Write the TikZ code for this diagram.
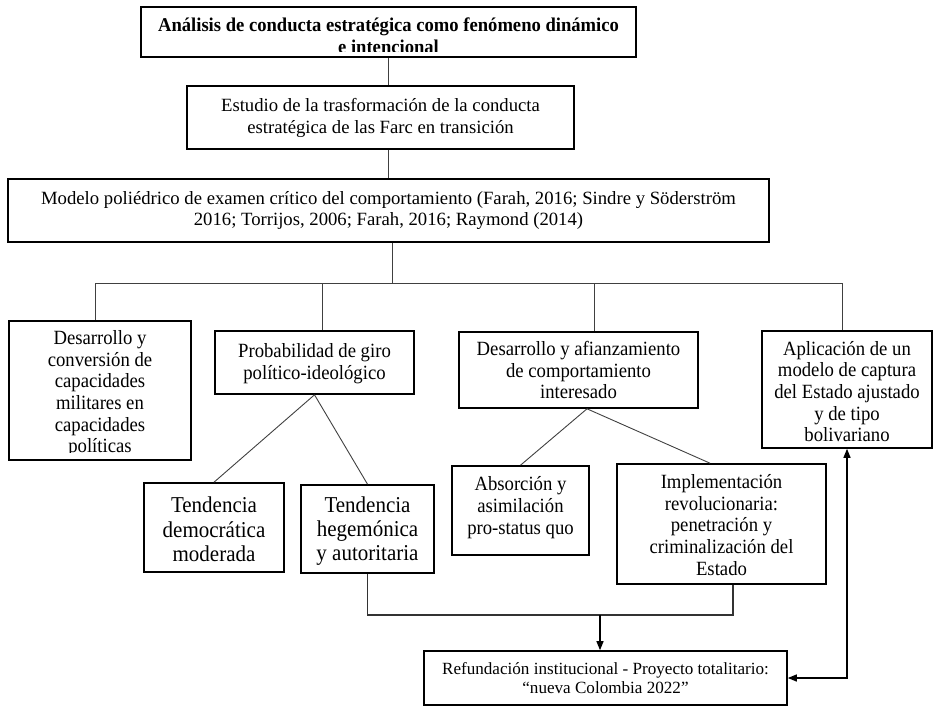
\documentclass[tikz,border=0pt]{standalone}
\usepackage{fontspec}
\setmainfont{Liberation Serif}
\usetikzlibrary{arrows.meta,calc}
\begin{document}
\begin{tikzpicture}[x=1pt,y=-1pt,
  box/.style={draw=black, line width=1.6pt, inner sep=0pt, align=center},
  st/.style={yscale=1.08, inner sep=0pt, align=center},
  conn/.style={draw=black!75, line width=0.9pt},
  conntwo/.style={draw=black!80, line width=1.2pt},
  arr/.style={draw=black, line width=1.3pt, -{Triangle[length=9pt,width=7pt]}},
  dblarr/.style={draw=black, line width=1.3pt, {Triangle[length=9pt,width=7pt]}-{Triangle[length=9pt,width=7pt]}},
  nf/.style={font=\fontsize{18.7}{20.1}\selectfont},
  nftwo/.style={font=\fontsize{18.7}{22}\selectfont},
  nfthree/.style={font=\fontsize{18.7}{21}\selectfont},
  bigf/.style={font=\fontsize{21}{22.5}\selectfont},
  smallf/.style={font=\fontsize{17.1}{19.5}\selectfont}
]
\useasboundingbox (0,0) rectangle (934,707);

% top box (text clipped by the frame)
\node[box, minimum width=495pt, minimum height=50pt] (b1) at (388.5,32) {};
\begin{scope}
  \clip (142,8) rectangle (635,51);
  \node[font=\bfseries\fontsize{18.6}{21}\selectfont, yscale=1.05, align=center, inner sep=0pt, anchor=north] (t1) at (388.5,17.5) {Análisis de conducta estratégica como fenómeno dinámico\\e intencional};
\end{scope}

\node[box, nftwo, minimum width=387pt, minimum height=63pt] (b2) at (380.5,117.5) {Estudio de la trasformación de la conducta\\estratégica de las Farc en transición};

\node[box, nfthree, minimum width=761pt, minimum height=63pt] (b3) at (388.5,210.5) {Modelo poliédrico de examen crítico del comportamiento (Farah, 2016; Sindre y Söderström\\2016; Torrijos, 2006; Farah, 2016; Raymond (2014)};

% box A (text clipped)
\node[box, minimum width=182pt, minimum height=139pt] (bA) at (100,390.5) {};
\begin{scope}
  \clip (10,322) rectangle (190,452);
  \node[st, nf, anchor=north] (tA) at (100,330.2) {Desarrollo y\\conversión de\\capacidades\\militares en\\capacidades\\políticas};
\end{scope}

\node[box, minimum width=199pt, minimum height=63pt] (bB) at (314.5,362.5) {};
\node[st, nf] (tB) at ([yshift=-1pt]bB.center) {Probabilidad de giro\\político-ideológico};

\node[box, minimum width=239pt, minimum height=76pt] (bC) at (578.5,370) {};
\node[st, nf] (tC) at (bC.center) {Desarrollo y afianzamiento\\de comportamiento\\interesado};

\node[box, minimum width=170pt, minimum height=117pt] (bD) at (847,389.5) {};
\node[st, nf] (tD) at ([yshift=-2pt]bD.center) {Aplicación de un\\modelo de captura\\del Estado ajustado\\y de tipo\\bolivariano};

\node[box, minimum width=140pt, minimum height=89pt] (bE) at (214,527.5) {};
\node[st, bigf] (tE) at ([yshift=-2pt]bE.center) {Tendencia\\democrática\\moderada};

\node[box, minimum width=133pt, minimum height=88pt] (bF) at (367.5,529) {};
\node[st, bigf] (tF) at ([yshift=-2pt]bF.center) {Tendencia\\hegemónica\\y autoritaria};

\node[box, minimum width=137pt, minimum height=89pt] (bG) at (520.5,510.5) {};
\node[st, nf] (tG) at ([yshift=3pt]bG.center) {Absorción y\\asimilación\\pro-status quo};

\node[box, minimum width=209pt, minimum height=120pt] (bH) at (721.5,524) {};
\node[st, nf] (tH) at ([yshift=-1pt]bH.center) {Implementación\\revolucionaria:\\penetración y\\criminalización del\\Estado};

\node[box, smallf, minimum width=363pt, minimum height=54pt] (bI) at (605.5,678) {Refundación institucional - Proyecto totalitario:\\“nueva Colombia 2022”};

% connectors
\draw[conn] (b1.south) -- (b1.south |- b2.north);
\draw[conn] (b1.south |- b2.south) -- (b3.north);
\coordinate (bus) at (392,283);
\coordinate (busL) at (95,283);
\coordinate (dB) at (322,283);
\coordinate (dC) at (594,283);
\coordinate (busR) at (842,283);
\draw[conn] (bus |- b3.south) -- (bus);
\draw[conn] (busL) -- (busR);
\draw[conn] (busL) -- (busL |- bA.north);
\draw[conn] (dB) -- (dB |- bB.north);
\draw[conn] (dC) -- (dC |- bC.north);
\draw[conn] (busR) -- (busR |- bD.north);

\draw[conn] (bB.south) -- (bE.north);
\draw[conn] (bB.south) -- (bF.north);
\coordinate (cS) at ([xshift=8.5pt]bC.south);
\coordinate (hN) at ([xshift=-11.5pt]bH.north);
\draw[conn] (cS) -- (bG.north);
\draw[conn] (cS) -- (hN);

\coordinate (hS) at ([xshift=11.5pt]bH.south);
\coordinate (jn) at (600,615);
\draw[conntwo] (bF.south) |- (hS |- jn) -- (hS);
\draw[arr] (jn) -- (jn |- bI.north);
\coordinate (dd) at (bD.south |- bI.east);
\draw[dblarr] (bI.east) -- (dd) -- (bD.south);
\end{tikzpicture}
\end{document}
